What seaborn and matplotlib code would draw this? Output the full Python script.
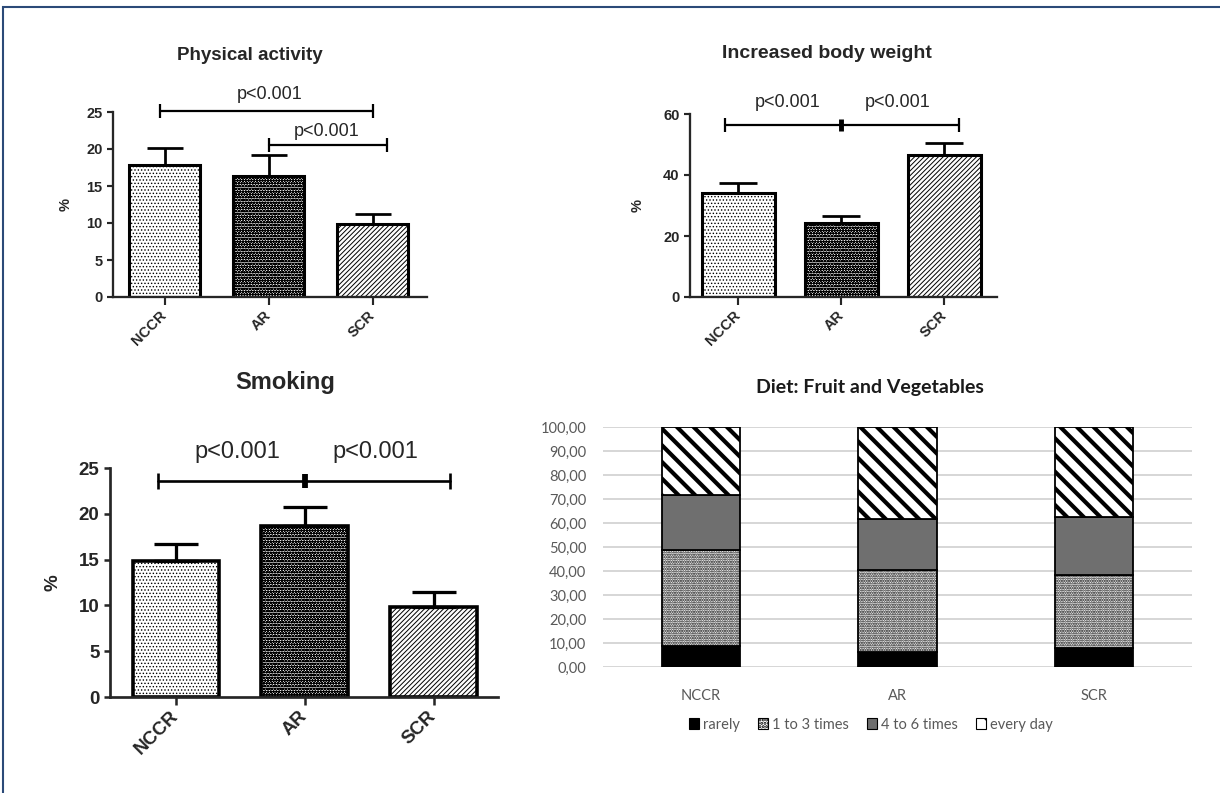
import numpy as np
import pandas as pd
import seaborn as sns
import matplotlib.pyplot as plt
from matplotlib.patches import Rectangle, Patch

groups = ['NCCR', 'AR', 'SCR']

activity = [17.8, 16.4, 9.8]
activity_err = [2.3, 2.8, 1.4]
weight = [34.1, 24.3, 46.6]
weight_err = [3.3, 2.3, 3.9]
smoking = [14.8, 18.7, 9.8]
smoking_err = [1.9, 2.0, 1.7]

diet_levels = ['rarely', '1 to 3 times', '4 to 6 times', 'every day']
diet_rarely = [8.7, 6.3, 7.9]
diet_1to3 = [40.0, 34.2, 30.4]
diet_4to6 = [22.9, 21.3, 24.2]
diet_daily = [28.4, 38.2, 37.5]

W, H = 1220, 793
sns.set_style('white')
plt.rcParams['font.family'] = ['Liberation Sans', 'DejaVu Sans']

fig = plt.figure(figsize=(W / 100, H / 100), dpi=100)


def px_axes(left, top, right, bottom):
    return fig.add_axes([left / W, 1 - bottom / H, (right - left) / W, (bottom - top) / H])


def hatch_lw(patch, lw):
    try:
        patch.set_hatch_linewidth(lw)
    except AttributeError:
        pass


prism_hatches = ['.....', 'oooooo', '///////']
prism_hatch_lw = [0.6, 0.9, 0.7]


def prism_panel(ax, values, errs, width, xlim, ylim, yticks, fs, lw, capsize, ylab_x):
    sns.barplot(x=groups, y=values, ax=ax, color='white', edgecolor='black',
                linewidth=lw, width=width, errorbar=None, saturation=1)
    for bar, h, hl in zip(ax.patches, prism_hatches, prism_hatch_lw):
        bar.set_hatch(h)
        hatch_lw(bar, hl)
    ax.errorbar(range(3), values, yerr=[np.zeros(3), errs], fmt='none', ecolor='black',
                elinewidth=lw * 0.9, capsize=capsize, capthick=lw * 0.9, zorder=3)
    ax.set_xlim(*xlim)
    ax.set_ylim(*ylim)
    ax.set_yticks(yticks)
    sns.despine(ax=ax)
    ax.spines['left'].set_bounds(ylim[0], ylim[1])
    for s in ['left', 'bottom']:
        ax.spines[s].set_linewidth(lw * 0.75)
    ax.tick_params(axis='both', direction='out', length=4, width=lw * 0.7,
                   labelsize=fs, left=True, bottom=True)
    ax.tick_params(axis='x', length=6, pad=6)
    for t in ax.get_yticklabels():
        t.set_fontweight('bold')
    for t in ax.get_xticklabels():
        t.set_fontweight('bold')
        t.set_rotation(45)
        t.set_ha('right')
        t.set_va('center')
        t.set_rotation_mode('anchor')
    ax.set_ylabel('%', fontsize=fs, fontweight='bold')
    ax.yaxis.set_label_coords(ylab_x, 0.5)


def bracket(ax, x0, x1, y, lw, mid=None, ms=10):
    ax.plot([x0, x1], [y, y], color='black', lw=lw, clip_on=False, zorder=4)
    ax.plot([x0, x1], [y, y], ls='none', marker='|', ms=ms, mew=lw, color='black', clip_on=False, zorder=4)
    if mid is not None:
        ax.plot([mid], [y], ls='none', marker='|', ms=ms * 0.8, mew=lw * 2.2, color='black', clip_on=False, zorder=4)


# Physical activity
ax1 = px_axes(113, 112, 427, 297)
prism_panel(ax1, activity, activity_err, 0.68, (-0.495, 2.52), (0, 25), [0, 5, 10, 15, 20, 25],
            10.5, 2.2, 13, -0.13)
bracket(ax1, -0.04, 2.0, 25.2, 1.6)
bracket(ax1, 1.0, 2.14, 20.5, 1.6)
ax1.text(1.01, 27.3, 'p<0.001', ha='center', va='center', fontsize=13)
ax1.text(1.56, 22.3, 'p<0.001', ha='center', va='center', fontsize=13)
fig.text(250 / W, 1 - 55 / H, 'Physical activity', ha='center', va='center', fontsize=13.5, fontweight='bold')

# Increased body weight
ax2 = px_axes(690, 114, 997, 297)
prism_panel(ax2, weight, weight_err, 0.71, (-0.47, 2.51), (0, 60), [0, 20, 40, 60],
            10.5, 2.2, 14, -0.147)
bracket(ax2, -0.13, 2.14, 56.4, 1.6, mid=1.0)
ax2.text(0.48, 63.9, 'p<0.001', ha='center', va='center', fontsize=13)
ax2.text(1.55, 63.9, 'p<0.001', ha='center', va='center', fontsize=13)
fig.text(827 / W, 1 - 53 / H, 'Increased body weight', ha='center', va='center', fontsize=14, fontweight='bold')

# Smoking
ax3 = px_axes(110, 468, 498, 697)
prism_panel(ax3, smoking, smoking_err, 0.67, (-0.51, 2.5), (0, 25), [0, 5, 10, 15, 20, 25],
            13.5, 2.6, 16, -0.124)
bracket(ax3, -0.14, 2.13, 23.6, 1.9, mid=1.0, ms=12)
ax3.text(0.48, 26.7, 'p<0.001', ha='center', va='center', fontsize=17)
ax3.text(1.55, 26.7, 'p<0.001', ha='center', va='center', fontsize=17)
fig.text(285 / W, 1 - 382 / H, 'Smoking', ha='center', va='center', fontsize=17, fontweight='bold')

# Diet: Fruit and Vegetables
ax4 = px_axes(603, 427, 1192, 667)
diet_series = [diet_rarely, diet_1to3, diet_4to6, diet_daily]
diet_colors = ['black', 'white', '#6f6f6f', 'white']
diet_hatches = [None, '.......', None, '\\\\']
diet_hatch_lw = [0.5, 1.1, 0.5, 3.0]
bottom = np.zeros(3)
for vals, fc, h, hlw in zip(diet_series, diet_colors, diet_hatches, diet_hatch_lw):
    sns.barplot(x=groups, y=vals, bottom=bottom, ax=ax4, color=fc, edgecolor='black',
                linewidth=1.3, width=0.4, errorbar=None, saturation=1)
    for bar in ax4.patches[-3:]:
        if h:
            bar.set_hatch(h)
        hatch_lw(bar, hlw)
    bottom = bottom + np.array(vals)
ax4.set_xlim(-0.5, 2.5)
ax4.set_ylim(0, 100)
ax4.set_yticks(np.arange(0, 101, 10))
ax4.set_yticklabels([f'{v:.2f}'.replace('.', ',') for v in np.arange(0, 101, 10)])
ax4.yaxis.grid(True, color='#d6d6d6', lw=1.4)
ax4.set_axisbelow(True)
sns.despine(ax=ax4, left=True, bottom=True)
ax4.tick_params(axis='both', length=0, labelcolor='#595959')
ax4.tick_params(axis='y', pad=12)
ax4.tick_params(axis='x', pad=16)
for t in ax4.get_xticklabels() + ax4.get_yticklabels():
    t.set_family(['Lato', 'DejaVu Sans'])
    t.set_fontsize(10.5)
handles = [Patch(facecolor=fc, edgecolor='black', hatch=h, lw=0.8)
           for fc, h in zip(diet_colors, ['', '.....', '', '\\'])]
leg = ax4.legend(handles, diet_levels, loc='center', bbox_to_anchor=(0.455, -0.24), ncol=4,
                 frameon=False, handlelength=0.7, handleheight=0.7, handletextpad=0.3,
                 columnspacing=1.2, prop={'family': ['Lato', 'DejaVu Sans'], 'size': 10.5})
for t in leg.get_texts():
    t.set_color('#595959')
for p in leg.get_patches():
    hatch_lw(p, 1.5)
fig.text(870 / W, 1 - 388 / H, 'Diet: Fruit and Vegetables', ha='center', va='center',
         fontsize=14, fontweight='bold', family=['Lato', 'DejaVu Sans'], color='#1a1a1a')

# outer frame
fig.patches.append(Rectangle((2.5 / W, -0.1), 1.2, 1.1 - 7 / H, transform=fig.transFigure,
                             fill=False, edgecolor='#2b4a78', lw=1.5))

fig.savefig('out.png', dpi=100)
